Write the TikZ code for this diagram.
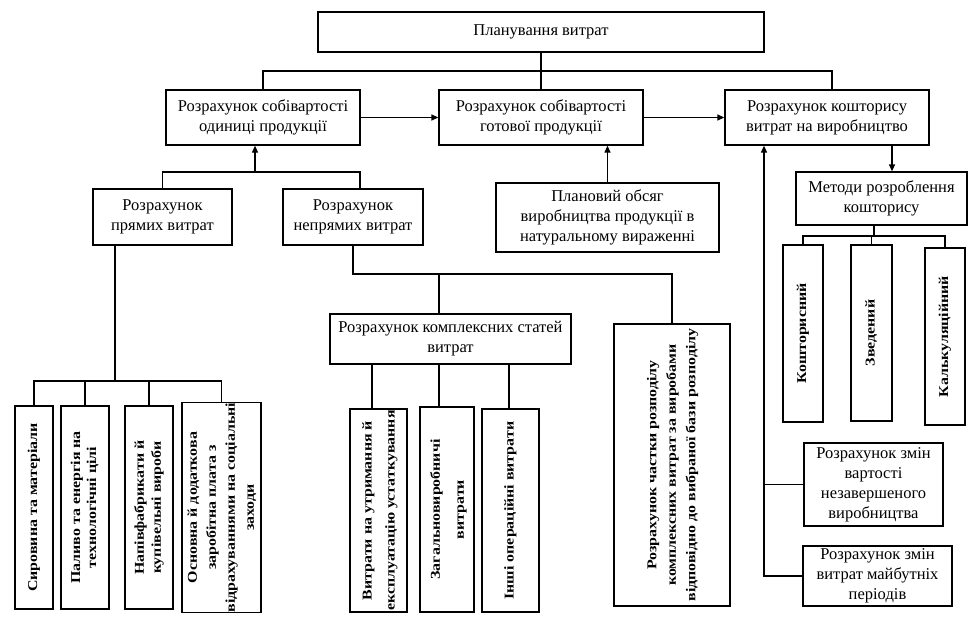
\documentclass[tikz,border=0pt]{standalone}
\usepackage{fontspec}
\setmainfont{Liberation Serif}
\newfontfamily\vfont[FakeStretch=1.18]{Liberation Serif}
\usetikzlibrary{arrows.meta}
\newcommand\vt[2]{\rotatebox{90}{\vfont\bfseries\fontsize{13.5}{#1}\selectfont\begin{tabular}{@{}c@{}}#2\end{tabular}}}
\begin{document}
\begin{tikzpicture}[x=1pt,y=-1pt,
 box/.style={draw, line width=1.3pt, inner sep=0pt, align=center, font=\fontsize{16.5}{20}\selectfont},
 vbox/.style={draw, line width=1.3pt, inner sep=0pt},
 ln/.style={line width=1.3pt},
 arr/.style={line width=1.3pt, -{Triangle[length=7pt,width=6pt]}}]
\useasboundingbox (0,0) rectangle (976,623);
% horizontal boxes
\node[box, minimum width=446, minimum height=40] (top) at (541,32) {Планування витрат};
\node[box, minimum width=194, minimum height=55] (b1) at (263,117.5) {Розрахунок собівартості\\одиниці продукції};
\node[box, minimum width=204, minimum height=55] (b2) at (541,117.5) {Розрахунок собівартості\\готової продукції};
\node[box, minimum width=204, minimum height=55] (b3) at (827,117.5) {Розрахунок кошторису\\витрат на виробництво};
\node[box, minimum width=139, minimum height=56] (pr) at (162.5,217) {Розрахунок\\прямих витрат};
\node[box, minimum width=140, minimum height=56] (np) at (353,217) {Розрахунок\\непрямих витрат};
\node[box, minimum width=223, minimum height=69] (pl) at (607.5,217.5) {Плановий обсяг\\виробництва продукції в\\натуральному вираженні};
\node[box, minimum width=241, minimum height=50] (cx) at (450.5,339) {Розрахунок комплексних статей\\витрат};
\node[box, minimum width=171, minimum height=53] (me) at (881.5,198.5) {Методи розроблення\\кошторису};
\node[box, minimum width=139, minimum height=83] (z1) at (873.5,484.5) {Розрахунок змін\\вартості\\незавершеного\\виробництва};
\node[box, minimum width=149, minimum height=60] (z2) at (877.5,576) {Розрахунок змін\\витрат майбутніх\\періодів};
% vertical boxes
\node[vbox, minimum width=38, minimum height=203] (l1) at (34,507.5) {\vt{16}{Сировина та матеріали}};
\node[vbox, minimum width=48, minimum height=203] (l2) at (85,507.5) {\vt{16}{Паливо та енергія на\\технологічні цілі}};
\node[vbox, minimum width=48, minimum height=203] (l3) at (149,507.5) {\vt{17}{Напівфабрикати й\\купівельні вироби}};
\node[vbox, minimum width=79, minimum height=203] (l4) at (221.5,507.5) {\vt{19}{Основна й додаткова\\заробітна плата з\\відрахуваннями на соціальні\\заходи}};
\node[vbox, minimum width=57, minimum height=203] (va) at (378.5,510.5) {\vt{23}{Витрати на утримання й\\експлуатацію устаткування}};
\node[vbox, minimum width=54, minimum height=205] (vb) at (447,509.5) {\vt{24}{Загальновиробничі\\витрати}};
\node[vbox, minimum width=57, minimum height=203] (vc) at (510.5,510.5) {\vt{16}{Інші операційні витрати}};
\node[vbox, minimum width=116, minimum height=282] (vr) at (672,465) {\vt{19.5}{Розрахунок частки розподілу\\комплексних витрат за виробами\\відповідно до вибраної бази розподілу}};
\node[vbox, minimum width=40, minimum height=177] (k1) at (803,333.5) {\vt{16}{Кошторисний}};
\node[vbox, minimum width=41, minimum height=176] (k2) at (871.5,333) {\vt{16}{Зведений}};
\node[vbox, minimum width=40, minimum height=177] (k3) at (945,336.5) {\vt{16}{Калькуляційний}};
% helper coordinates
\coordinate (h) at (0,71);
\path ([xshift=5pt]b3.north) coordinate (b3n);
\coordinate (j) at (255,172);
\path ([xshift=7pt]np.north) coordinate (npn);
\coordinate (k) at (0,274);
\coordinate (cxd) at (439,274);
\coordinate (lh) at (0,381);
\coordinate (px) at (115,0);
\coordinate (ma) at (892,0);
\coordinate (mt) at (874,0);
\coordinate (mh) at (0,236);
\coordinate (sx) at (764,0);
% connectors
\draw[ln] (top.south) -- (b2.north);
\draw[ln] (b1.north) |- (b3n |- h) -- (b3n);
\draw[arr] (b1.east) -- (b2.west);
\draw[arr] (b2.east) -- (b3.west);
\draw[ln] (pr.north) |- (npn |- j) -- (npn);
\draw[arr] (j) -- (j |- b1.south);
\draw[arr] (pl.north) -- (pl.north |- b2.south);
\draw[ln] (np.south) |- (vr.north |- k) -- (vr.north);
\draw[ln] (cxd) -- (cxd |- cx.north);
\foreach \n/\x in {va/372, vb/439, vc/509} {
  \path (\x,0) coordinate (t);
  \draw[ln] (t |- cx.south) -- (t |- \n.north);
}
\draw[ln] (px |- pr.south) -- (px |- lh);
\draw[ln] (l1.north) |- (l4.north |- lh) -- (l4.north);
\draw[ln] (l2.north) -- (l2.north |- lh);
\draw[ln] (l3.north) -- (l3.north |- lh);
\draw[arr] (ma |- b3.south) -- (ma |- me.north);
\draw[ln] (mt |- me.south) -- (mt |- mh);
\draw[ln] (k1.north) |- (k3.north |- mh) -- (k3.north);
\draw[ln] (k2.north) -- (k2.north |- mh);
\draw[arr] (z2.west) -| (sx |- b3.south);
\draw[ln] (z1.west) -- (z1.west -| sx);
\end{tikzpicture}
\end{document}
